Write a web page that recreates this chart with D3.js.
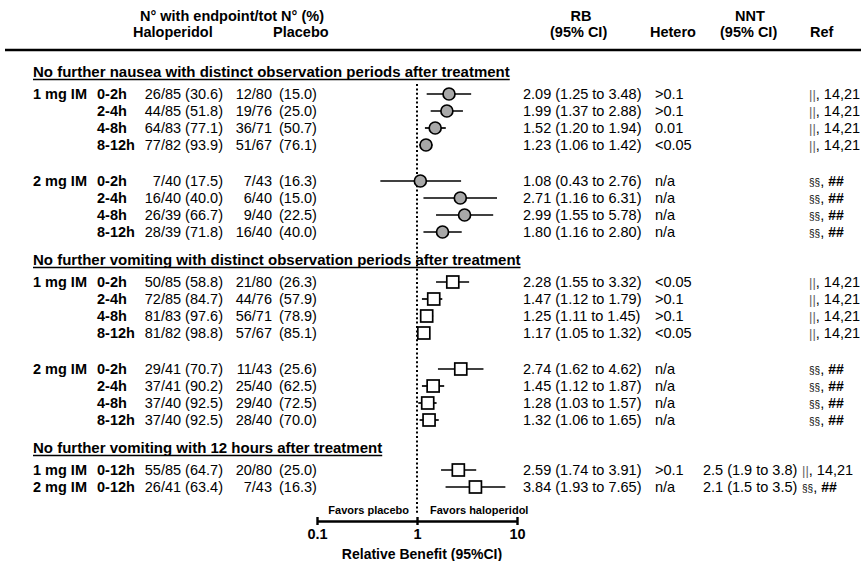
<!DOCTYPE html>
<html>
<head>
<meta charset="utf-8">
<script src="https://cdn.jsdelivr.net/npm/d3@7"></script>
<style>
  body { margin: 0; background: #fff; }
  svg { display: block; font-family: "Liberation Sans", Arial, sans-serif; }
</style>
</head>
<body>
<div id="chart"></div>
<script>
// ---- data ----
var sectionTitles = [
  "No further nausea with distinct observation periods after treatment",
  "No further vomiting with distinct observation periods after treatment",
  "No further vomiting with 12 hours after treatment"
];
var sectionMarker = ["circle", "square", "square"];

var rowSection = [0,0,0,0, 0,0,0,0, 1,1,1,1, 1,1,1,1, 2,2];
var rowDose    = ["1 mg IM","","","", "2 mg IM","","","",
                  "1 mg IM","","","", "2 mg IM","","","",
                  "1 mg IM","2 mg IM"];
var rowPeriod  = ["0-2h","2-4h","4-8h","8-12h", "0-2h","2-4h","4-8h","8-12h",
                  "0-2h","2-4h","4-8h","8-12h", "0-2h","2-4h","4-8h","8-12h",
                  "0-12h","0-12h"];

var haloN   = [26,44,64,77, 7,16,26,28, 50,72,81,81, 29,37,37,37, 55,26];
var haloTot = [85,85,83,82, 40,40,39,39, 85,85,83,82, 41,41,40,40, 85,41];
var haloPct = [30.6,51.8,77.1,93.9, 17.5,40.0,66.7,71.8, 58.8,84.7,97.6,98.8, 70.7,90.2,92.5,92.5, 64.7,63.4];

var placN   = [12,19,36,51, 7,6,9,16, 21,44,56,57, 11,25,29,28, 20,7];
var placTot = [80,76,71,67, 43,40,40,40, 80,76,71,67, 43,40,40,40, 80,43];
var placPct = [15.0,25.0,50.7,76.1, 16.3,15.0,22.5,40.0, 26.3,57.9,78.9,85.1, 25.6,62.5,72.5,70.0, 25.0,16.3];

var rb   = [2.09,1.99,1.52,1.23, 1.08,2.71,2.99,1.80, 2.28,1.47,1.25,1.17, 2.74,1.45,1.28,1.32, 2.59,3.84];
var rbLo = [1.25,1.37,1.20,1.06, 0.43,1.16,1.55,1.16, 1.55,1.12,1.11,1.05, 1.62,1.12,1.03,1.06, 1.74,1.93];
var rbHi = [3.48,2.88,1.94,1.42, 2.76,6.31,5.78,2.80, 3.32,1.79,1.45,1.32, 4.62,1.87,1.57,1.65, 3.91,7.65];

var hetero = [">0.1",">0.1","0.01","<0.05", "n/a","n/a","n/a","n/a",
              "<0.05",">0.1",">0.1","<0.05", "n/a","n/a","n/a","n/a",
              ">0.1","n/a"];
var nnt = ["","","","", "","","","", "","","","", "","","","",
           "2.5 (1.9 to 3.8)","2.1 (1.5 to 3.5)"];
var refType = ["A","A","A","A", "B","B","B","B", "A","A","A","A", "B","B","B","B", "A","B"];

var axisTicks = [0.1, 1, 10];

// ---- layout ----
var width = 866, height = 561;
var fmt1 = d3.format(".2f");

var svg = d3.select("#chart").append("svg")
  .attr("width", width)
  .attr("height", height);

var x = d3.scaleLog().domain([0.1, 10]).range([317, 517]);

// row positions
var rowY = [], titleY = [];
var cur = 72;
rowSection.forEach(function(s, i){
  if (i === 0 || s !== rowSection[i-1]) {
    if (i > 0) { cur += 28; }
    titleY.push(cur);
    cur += 22;
  } else if (rowDose[i] && !rowDose[i-1]) {
    cur += 36;
  } else {
    cur += 17;
  }
  rowY.push(cur);
});

// header
var head = svg.append("g").attr("font-weight", "bold").attr("font-size", 14.5);
head.append("text").attr("x", 232).attr("y", 20.5).attr("text-anchor", "middle").text("N\u00b0 with endpoint/tot N\u00b0 (%)");
head.append("text").attr("x", 133).attr("y", 37).text("Haloperidol");
head.append("text").attr("x", 273).attr("y", 37).text("Placebo");
head.append("text").attr("x", 581).attr("y", 20.5).attr("text-anchor", "middle").text("RB");
head.append("text").attr("x", 550).attr("y", 37).text("(95% CI)");
head.append("text").attr("x", 650).attr("y", 37).text("Hetero");
head.append("text").attr("x", 750).attr("y", 20.5).attr("text-anchor", "middle").text("NNT");
head.append("text").attr("x", 720).attr("y", 37).text("(95% CI)");
head.append("text").attr("x", 810).attr("y", 37).text("Ref");

svg.append("line")
  .attr("x1", 5).attr("x2", 861).attr("y1", 50).attr("y2", 50)
  .attr("stroke", "#000").attr("stroke-width", 2.6);

// section titles, underlined
titleY.forEach(function(ty, s){
  var t = svg.append("text")
    .attr("x", 33).attr("y", ty + 5)
    .attr("font-weight", "bold").attr("font-size", 15)
    .text(sectionTitles[s]);
  var w = t.node().getComputedTextLength();
  svg.append("line")
    .attr("x1", 33).attr("x2", 33 + w)
    .attr("y1", ty + 7.5).attr("y2", ty + 7.5)
    .attr("stroke", "#000").attr("stroke-width", 1.4);
});

// null line
svg.append("line")
  .attr("x1", x(1)).attr("x2", x(1))
  .attr("y1", 84).attr("y2", 515)
  .attr("stroke", "#000").attr("stroke-width", 2)
  .attr("stroke-dasharray", "2,2.4");

// text columns
var rowsG = svg.append("g").attr("font-size", 14.5);
var rowSel = rowsG.selectAll("g.row")
  .data(rowY)
  .enter().append("g")
  .attr("class", "row")
  .attr("transform", function(d){ return "translate(0," + (d + 5) + ")"; });

rowSel.append("text").attr("x", 33).attr("font-weight", "bold")
  .text(function(d, i){ return rowDose[i]; });
rowSel.append("text").attr("x", 97).attr("font-weight", "bold")
  .text(function(d, i){ return rowPeriod[i]; });
rowSel.append("text").attr("x", 223).attr("text-anchor", "end")
  .text(function(d, i){ return haloN[i] + "/" + haloTot[i] + " (" + haloPct[i].toFixed(1) + ")"; });
rowSel.append("text").attr("x", 272).attr("text-anchor", "end")
  .text(function(d, i){ return placN[i] + "/" + placTot[i]; });
rowSel.append("text").attr("x", 279)
  .text(function(d, i){ return "(" + placPct[i].toFixed(1) + ")"; });
rowSel.append("text").attr("x", 523)
  .text(function(d, i){ return fmt1(rb[i]) + " (" + fmt1(rbLo[i]) + " to " + fmt1(rbHi[i]) + ")"; });
rowSel.append("text").attr("x", 655)
  .text(function(d, i){ return hetero[i]; });
rowSel.append("text").attr("x", 703)
  .text(function(d, i){ return nnt[i]; });

// references
var refs = rowSel.append("text")
  .attr("x", function(d, i){ return nnt[i] ? 802 : 809; });
refs.each(function(d, i){
  var t = d3.select(this);
  if (refType[i] === "A") {
    t.append("tspan").attr("fill", "#666").attr("font-size", 13).text("||");
    t.append("tspan").text(", 14,21");
  } else {
    t.append("tspan").attr("font-size", 10).text("\u00a7\u00a7");
    t.append("tspan").text(", ");
    t.append("tspan").attr("font-weight", "bold").attr("font-size", 14).text("##");
  }
});

// forest marks
var marks = svg.append("g").selectAll("g.mark")
  .data(rowY)
  .enter().append("g")
  .attr("class", "mark");

marks.append("line")
  .attr("x1", function(d, i){ return x(rbLo[i]); })
  .attr("x2", function(d, i){ return x(rbHi[i]); })
  .attr("y1", function(d){ return d; })
  .attr("y2", function(d){ return d; })
  .attr("stroke", "#000").attr("stroke-width", 1.7);

marks.each(function(d, i){
  var g = d3.select(this);
  if (sectionMarker[rowSection[i]] === "circle") {
    g.append("circle")
      .attr("cx", x(rb[i])).attr("cy", d).attr("r", 6)
      .attr("fill", "#a8a8a8").attr("stroke", "#000").attr("stroke-width", 1.7);
  } else {
    g.append("rect")
      .attr("x", x(rb[i]) - 6).attr("y", d - 6)
      .attr("width", 12).attr("height", 12)
      .attr("fill", "#fff").attr("stroke", "#000").attr("stroke-width", 1.7);
  }
});

// axis
var axisY = 521;
var axis = svg.append("g")
  .attr("transform", "translate(0," + axisY + ")")
  .call(d3.axisBottom(x).tickValues(axisTicks).tickFormat(d3.format("")).tickSize(4).tickSizeOuter(0));
axis.select(".domain").attr("stroke-width", 2.4);
axis.selectAll(".tick line").attr("y1", -4).attr("stroke-width", 2.4);
axis.selectAll(".tick text")
  .attr("y", 8).attr("font-size", 14.5).attr("font-weight", "bold")
  .attr("font-family", "Liberation Sans, Arial, sans-serif").attr("fill", "#000");

svg.append("text")
  .attr("x", 422).attr("y", 559).attr("text-anchor", "middle")
  .attr("font-weight", "bold").attr("font-size", 14)
  .text("Relative Benefit (95%CI)");

svg.append("text")
  .attr("x", 409).attr("y", 514).attr("text-anchor", "end")
  .attr("font-weight", "bold").attr("font-size", 11)
  .text("Favors placebo");
svg.append("text")
  .attr("x", 430).attr("y", 514)
  .attr("font-weight", "bold").attr("font-size", 11)
  .text("Favors haloperidol");
</script>
</body>
</html>
